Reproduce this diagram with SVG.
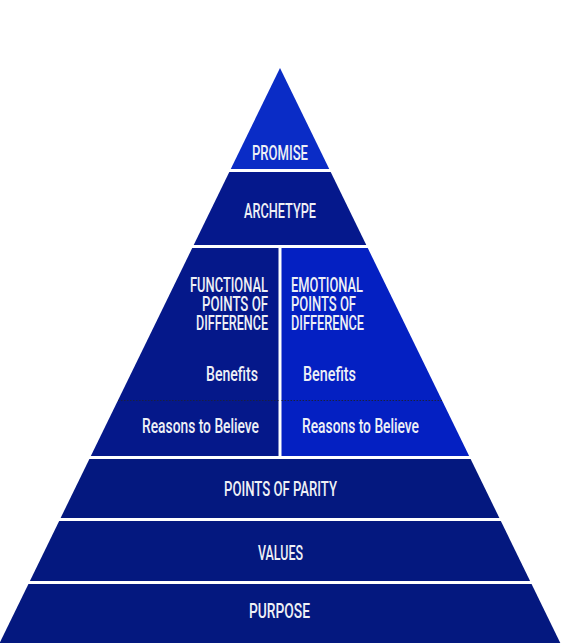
<svg xmlns="http://www.w3.org/2000/svg" width="563" height="644" viewBox="0 0 563 644">
<style>
.t{font-family:Roboto,"Liberation Sans",sans-serif;font-size:19.5px;font-weight:500;fill:#eef0f6}
.c{text-anchor:middle}
.r{text-anchor:end}
.dark{fill:#04187f}
</style>
<rect width="563" height="644" fill="#ffffff"/>
<g id="promise">
<polygon points="280,68 329.24,169 230.76,169" fill="#0a2cc6"/>
<text class="t c" x="280" y="160" textLength="56" lengthAdjust="spacingAndGlyphs">PROMISE</text>
</g>
<g id="archetype">
<polygon points="229.3,172 330.7,172 366.29,245 193.71,245" fill="#05188c"/>
<text class="t c" x="280" y="218" textLength="72" lengthAdjust="spacingAndGlyphs">ARCHETYPE</text>
</g>
<g id="functional">
<polygon points="192.25,248 278.5,248 278.5,456 90.85,456" fill="#05188a"/>
<text class="t r" x="268" y="292" textLength="78" lengthAdjust="spacingAndGlyphs">FUNCTIONAL</text>
<text class="t r" x="268" y="311" textLength="66" lengthAdjust="spacingAndGlyphs">POINTS OF</text>
<text class="t r" x="268" y="330" textLength="72" lengthAdjust="spacingAndGlyphs">DIFFERENCE</text>
<text class="t" x="206" y="381" textLength="52" lengthAdjust="spacingAndGlyphs">Benefits</text>
<text class="t" x="142" y="433" textLength="117" lengthAdjust="spacingAndGlyphs">Reasons to Believe</text>
</g>
<g id="emotional">
<polygon points="281.5,248 367.75,248 469.15,456 281.5,456" fill="#0420c2"/>
<text class="t" x="291" y="292" textLength="72" lengthAdjust="spacingAndGlyphs">EMOTIONAL</text>
<text class="t" x="291" y="311" textLength="65" lengthAdjust="spacingAndGlyphs">POINTS OF</text>
<text class="t" x="291" y="330" textLength="73" lengthAdjust="spacingAndGlyphs">DIFFERENCE</text>
<text class="t" x="303" y="381" textLength="53" lengthAdjust="spacingAndGlyphs">Benefits</text>
<text class="t" x="302" y="433" textLength="117" lengthAdjust="spacingAndGlyphs">Reasons to Believe</text>
</g>
<g id="connectors">
<line x1="118" y1="400.5" x2="278.5" y2="400.5" stroke="#1a2040" stroke-width="1" stroke-dasharray="1.5,1.5"/>
<line x1="281.5" y1="400.5" x2="442" y2="400.5" stroke="#1a2040" stroke-width="1" stroke-dasharray="1.5,1.5"/>
</g>
<g id="parity">
<polygon points="89.39,459 470.61,459 499.38,518 60.62,518" class="dark"/>
<text class="t c" x="280.5" y="496" textLength="113" lengthAdjust="spacingAndGlyphs">POINTS OF PARITY</text>
</g>
<g id="values">
<polygon points="59.16,521 500.84,521 530.09,581 29.91,581" class="dark"/>
<text class="t c" x="280.5" y="560" textLength="45" lengthAdjust="spacingAndGlyphs">VALUES</text>
</g>
<g id="purpose">
<polygon points="28.45,584 531.55,584 560.31,643 -0.31,643" class="dark"/>
<text class="t c" x="279.5" y="618" textLength="61" lengthAdjust="spacingAndGlyphs">PURPOSE</text>
</g>
</svg>
